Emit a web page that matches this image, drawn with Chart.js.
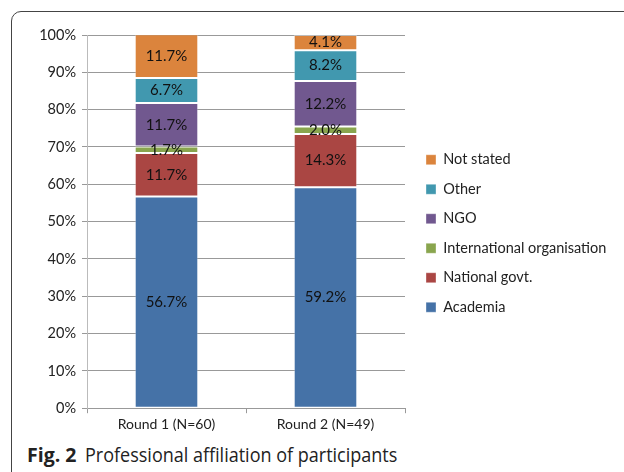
<!DOCTYPE html>
<html>
<head>
<meta charset="utf-8">
<script src="https://cdn.jsdelivr.net/npm/chart.js@4.4.1/dist/chart.umd.min.js"></script>
<style>
  html, body { margin: 0; padding: 0; background: #fff; }
  body { width: 624px; height: 472px; position: relative; overflow: hidden; }
  #frame {
    position: absolute; left: 11px; top: 11px; width: 700px; height: 600px;
    border: 1px solid #444; border-radius: 10px; box-sizing: border-box;
  }
  #wrap { position: absolute; left: 0; top: 0; width: 624px; height: 440px; }
  #caption {
    position: absolute; left: 27px; top: 443px; font-family: "Open Sans", sans-serif;
    color: #222; white-space: nowrap; line-height: 24px;
  }
  #caption b { font-weight: 700; font-size: 19.5px; display: inline-block; }
  #caption span { font-size: 20px; display: inline-block; transform: scaleX(0.9); transform-origin: left; margin-left: 9px; }
</style>
</head>
<body>
<div id="frame"></div>
<div id="wrap"><canvas id="myChart" width="624" height="440"></canvas></div>
<div id="caption"><b>Fig. 2</b><span>Professional affiliation of participants</span></div>
<script>
// data
var rounds = ['Round 1 (N=60)', 'Round 2 (N=49)'];
var academia = [56.7, 59.2];
var nationalGovt = [11.7, 14.3];
var international = [1.7, 2.0];
var ngo = [11.7, 12.2];
var other = [6.7, 8.2];
var notStated = [11.7, 4.1];

var font = 'Lato, "Open Sans", sans-serif';

// draw value labels in the middle of each segment
var segLabels = {
    id: 'segLabels',
    afterDatasetsDraw: function(chart) {
        var c = chart.ctx;
        c.save();
        c.font = '15px ' + font;
        c.fillStyle = '#111';
        c.textAlign = 'center';
        c.textBaseline = 'middle';
        chart.data.datasets.forEach(function(ds, i) {
            chart.getDatasetMeta(i).data.forEach(function(bar, j) {
                var mid = (bar.y + bar.base) / 2;
                c.fillText(ds.data[j].toFixed(1) + '%', bar.x, mid);
            });
        });
        c.restore();
    }
};

// legend is capped at a quarter of the width by the layout, so widen it here
var wideLegend = {
    id: 'wideLegend',
    beforeUpdate: function(chart) {
        var lg = chart.legend;
        if (!lg || lg._patched) return;
        lg._patched = true;
        var fit = lg.fit;
        lg.fit = function() {
            fit.call(this);
            this.width = 219;
        };
        var draw = lg.draw;
        lg.draw = function(a) {
            this.ctx.save();
            this.ctx.translate(6, -2);
            draw.call(this, a);
            this.ctx.restore();
        };
    }
};

function ds(label, data, color) {
    return {
        label: label,
        data: data,
        backgroundColor: color,
        borderColor: 'rgba(255,255,255,0.35)',
        borderWidth: 1,
        borderSkipped: false,
        barPercentage: 0.4,
        categoryPercentage: 1
    };
}

var ctx = document.getElementById('myChart').getContext('2d');
var chart = new Chart(ctx, {
    type: 'bar',
    data: {
        labels: rounds,
        datasets: [
            ds('Academia', academia, '#4572A7'),
            ds('National govt.', nationalGovt, '#AA4643'),
            ds('International organisation', international, '#89A54E'),
            ds('NGO', ngo, '#71588F'),
            ds('Other', other, '#4198AF'),
            ds('Not stated', notStated, '#DB843D')
        ]
    },
    options: {
        responsive: false,
        animation: false,
        layout: { padding: { left: 30, top: 35, right: 0, bottom: 4 } },
        scales: {
            x: {
                stacked: true,
                grid: { drawOnChartArea: false, drawTicks: true, tickLength: 5, color: '#999' },
                border: { color: '#999' },
                ticks: { color: '#222', font: { family: font, size: 14 }, padding: 3 }
            },
            y: {
                stacked: true,
                min: 0, max: 100,
                grid: { color: '#999', tickLength: 5 },
                border: { color: '#bbb' },
                ticks: {
                    stepSize: 10,
                    color: '#222',
                    padding: 6,
                    font: { family: font, size: 14.5 },
                    callback: function(v) { return v + '%'; }
                },
                afterFit: function(scale) { scale.width = 57; }
            }
        },
        plugins: {
            tooltip: { enabled: false },
            legend: {
                position: 'right',
                reverse: true,
                labels: {
                    boxWidth: 10, boxHeight: 10, padding: 15,
                    color: '#222',
                    font: { family: font, size: 14.5 }
                }
            }
        }
    },
    plugins: [segLabels, wideLegend]
});
</script>
</body>
</html>
